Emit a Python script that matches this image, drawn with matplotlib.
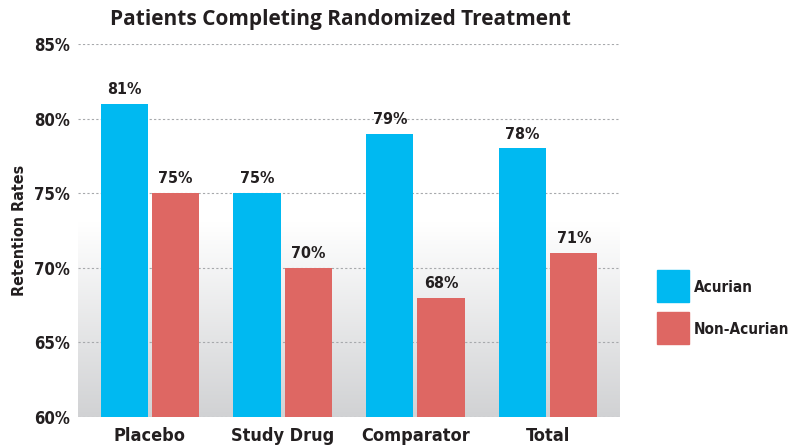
import matplotlib
matplotlib.use("Agg")
import matplotlib.pyplot as plt
from matplotlib.patches import Rectangle
import numpy as np

categories = ["Placebo", "Study Drug", "Comparator", "Total"]
acurian = [81, 75, 79, 78]
non_acurian = [75, 70, 68, 71]
yticks = [60, 65, 70, 75, 80, 85]

CYAN = "#00b9f1"
RED = "#de6763"
TXT = "#231f20"

plt.rcParams["font.family"] = ["DejaVu Sans"]
plt.rcParams["font.stretch"] = "condensed"

fig = plt.figure(figsize=(7.93, 4.45), dpi=100)
ax = fig.add_axes([78 / 793, 1 - 417 / 445, 542 / 793, 373 / 445])

# gradient background: white at top, grey toward the bottom
ys = np.linspace(85, 60, 300)
t = np.clip((73 - ys) / 13, 0, 1)
top = np.array([1.0, 1.0, 1.0])
bot = np.array([0xd1, 0xd2, 0xd4]) / 255
grad = top[None, :] * (1 - t[:, None]) + bot[None, :] * t[:, None]
ax.imshow(grad[:, None, :], extent=[-0.54, 3.54, 60, 85], aspect="auto", zorder=0)

x = np.arange(len(categories))
w = 0.355
gap = 0.015
b1 = ax.bar(x - w / 2 - gap, np.array(acurian) - 60, w, bottom=60, color=CYAN, zorder=3)
b2 = ax.bar(x + w / 2 + gap, np.array(non_acurian) - 60, w, bottom=60, color=RED, zorder=3)

for bars, vals in ((b1, acurian), (b2, non_acurian)):
    for r, v in zip(bars, vals):
        ax.text(r.get_x() + r.get_width() / 2, v + 0.45, f"{v}%", ha="center", va="bottom",
                fontsize=11.5, fontweight="bold", color=TXT, zorder=4)

ax.set_xlim(-0.54, 3.54)
ax.set_ylim(60, 85)
ax.set_yticks(yticks)
ax.set_yticklabels([f"{v}%" for v in yticks], fontsize=12, fontweight="bold", color=TXT)
ax.set_xticks(x)
ax.set_xticklabels(categories, fontsize=13, fontweight="bold", color=TXT)
ax.tick_params(length=0, pad=6)
ax.tick_params(axis="x", pad=7)
for s in ax.spines.values():
    s.set_visible(False)
for v in yticks:
    ax.axhline(v, color="#a7a9ac", linestyle=(0, (2, 2)), linewidth=0.8, zorder=1)

ax.set_ylabel("Retention Rates", fontsize=11.5, fontweight="bold", color=TXT, labelpad=5)

fig.text(340 / 793, 1 - 20 / 445, "Patients Completing Randomized Treatment",
         ha="center", va="center", fontsize=15, fontweight="bold", color=TXT,
         family=["Open Sans", "DejaVu Sans"], fontstretch="normal")

# legend squares
for i, (lab, col) in enumerate((("Acurian", CYAN), ("Non-Acurian", RED))):
    y0 = 270 + i * 42
    fig.patches.append(Rectangle((657 / 793, 1 - (y0 + 32) / 445), 32 / 793, 32 / 445,
                                 transform=fig.transFigure, color=col))
    fig.text(694 / 793, 1 - (y0 + 17) / 445, lab, ha="left", va="center",
             fontsize=11, fontweight="bold", color=TXT)

fig.savefig("out.png", dpi=100)
